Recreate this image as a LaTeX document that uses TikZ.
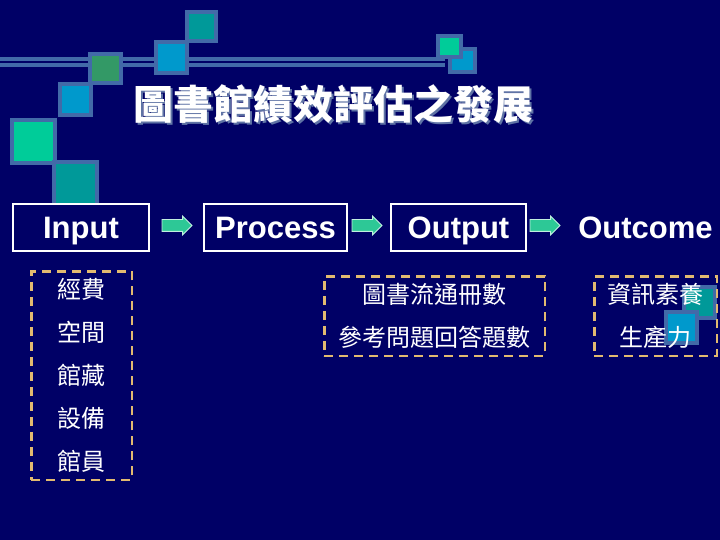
\documentclass[tikz,border=0pt]{standalone}
\usepackage{fontspec}
\setmainfont{Liberation Sans}
\newfontfamily\cjk{Noto Sans CJK TC}
\usepackage{tikz}
\usetikzlibrary{positioning,shapes.arrows}

\definecolor{slidebg}{RGB}{0,0,102}
\definecolor{steel}{RGB}{66,106,168}
\definecolor{tileteal}{RGB}{0,153,153}
\definecolor{tileblue}{RGB}{0,153,204}
\definecolor{tilegreen}{RGB}{51,153,102}
\definecolor{tilemint}{RGB}{0,204,153}
\definecolor{dashtan}{RGB}{226,186,112}
\definecolor{titleshade}{RGB}{95,115,165}
\definecolor{arrowmint}{RGB}{45,200,150}

% text with a small shadow set behind it
\newcommand{\shadowtext}[1]{%
  \rlap{\hspace{2pt}\raisebox{-2pt}{\textcolor{titleshade}{#1}}}#1}

\begin{document}
\begin{tikzpicture}[x=1pt, y=-1pt,
  tile/.style={draw=steel, line width=4.5pt},
  stage/.style={draw=white, line width=2pt, fill=slidebg, text=white,
    inner sep=0pt, outer sep=0pt, minimum height=47pt,
    text height=23pt, text depth=0pt,
    font=\bfseries\fontsize{31}{31}\selectfont},
  flow/.style={single arrow, draw=white!70!arrowmint, line width=0.8pt,
    fill=arrowmint, minimum height=30pt, inner xsep=0pt, inner ysep=5.5pt,
    text height=0pt, text depth=0pt, single arrow head extend=3.5pt,
    outer sep=0pt, yshift=2pt},
  items/.style={draw=dashtan, line width=2.5pt, dash pattern=on 9pt off 6pt,
    text=white, align=center, inner sep=0pt,
    font=\cjk\fontsize{24}{43}\selectfont}
]

% slide background
\path[use as bounding box] (0,0) rectangle (720,540);
\fill[slidebg] (0,0) rectangle (720,540);

% double rule across the top
\draw[steel, line width=10pt] (0,62) -- (445,62);
\draw[slidebg, line width=1.5pt] (0,62) -- (445,62);

% stair of squares on the left
\filldraw[tile, fill=tileteal] (187,12) rectangle (216,41);
\filldraw[tile, fill=tileblue] (156,42) rectangle (187,73);
\filldraw[tile, fill=tilegreen] (90,54) rectangle (121,83);
\filldraw[tile, fill=tileblue] (60,84) rectangle (91,115);
\filldraw[tile, fill=tilemint] (12,120) rectangle (55,163);
\filldraw[tile, fill=tileteal] (54,162) rectangle (97,205);

% pair at the end of the rule
\filldraw[tile, fill=tileblue] (450,49) rectangle (475,72);
\filldraw[tile, fill=tilemint] (438,36) rectangle (461,57);

% title
\node[text=white, font=\cjk\bfseries\fontsize{40}{40}\selectfont]
  (title) at (333,105) {\shadowtext{圖書館績效評估之發展}};

% the four stages
\node[stage, minimum width=136pt] (input) at (81,227.5) {Input};
\node[stage, minimum width=143pt] (process) at (275.5,227.5) {Process};
\node[stage, minimum width=135pt] (output) at (458.5,227.5) {Output};
\node[stage, draw=none, fill=none] (outcome) at (645.5,227.5) {Outcome};

\node[flow, right=13pt of input] (arrowA) {};
\node[flow, right=5pt of process] (arrowB) {};
\node[flow, right=4pt of output] (arrowC) {};

% squares behind the outcome list
\filldraw[tile, fill=tileteal] (684,287) rectangle (715,318);
\filldraw[tile, fill=tileblue] (666,312) rectangle (697,343);

% dashed lists under the stages
\node[items, minimum width=100.5pt, minimum height=208.5pt]
  (inputlist) at (81.5,375.5) {經費\\空間\\館藏\\設備\\館員};
\node[items, minimum width=220.5pt, minimum height=79.5pt]
  (outputlist) at (434.5,316) {圖書流通冊數\\參考問題回答題數};
\node[items, minimum width=122.5pt, minimum height=79.5pt]
  (outcomelist) at (655.5,316) {資訊素養\\生產力};

\end{tikzpicture}
\end{document}
